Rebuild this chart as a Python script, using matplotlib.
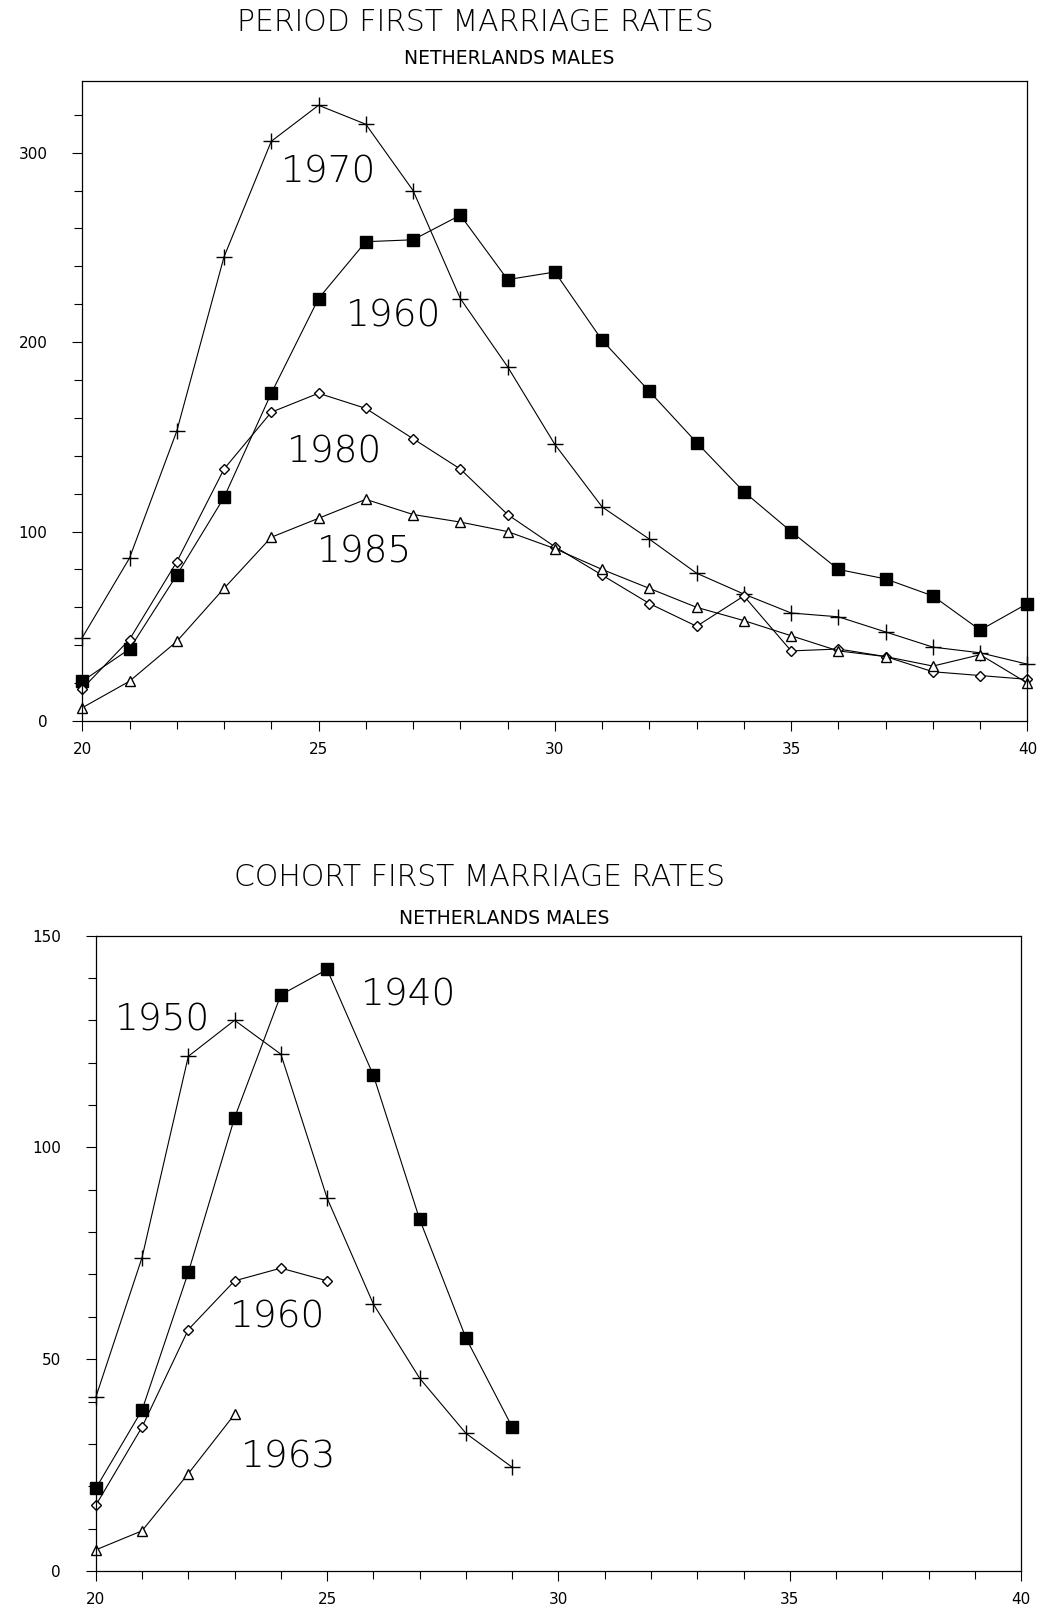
import matplotlib
matplotlib.use("Agg")
import matplotlib.pyplot as plt
from matplotlib.ticker import MultipleLocator, FixedLocator

ages = list(range(20, 41))

# period rates per 1000, by calendar year
p1960 = [21, 38, 77, 118, 173, 223, 253, 254, 267, 233, 237, 201, 174, 147, 121,
         100, 80, 75, 66, 48, 62]
p1970 = [44, 86, 153, 245, 306, 325, 315, 280, 223, 187, 146, 113, 96, 78, 67,
         57, 55, 47, 39, 36, 30]
p1980 = [17, 43, 84, 133, 163, 173, 165, 149, 133, 109, 92, 77, 62, 50, 66,
         37, 38, 34, 26, 24, 22]
p1985 = [7, 21, 42, 70, 97, 107, 117, 109, 105, 100, 91, 80, 70, 60, 53,
         45, 37, 34, 29, 35, 20]

# cohort rates, by birth year
c_ages_1940 = list(range(20, 30))
c1940 = [19.5, 38, 70.5, 107, 136, 142, 117, 83, 55, 34]
c_ages_1950 = list(range(20, 30))
c1950 = [41, 74, 121.5, 130, 122, 88, 63, 45.5, 32.5, 24.5]
c_ages_1960 = list(range(20, 26))
c1960 = [15.5, 34, 57, 68.5, 71.5, 68.5]
c_ages_1963 = list(range(20, 24))
c1963 = [5, 9.5, 23, 37]

line_kw = dict(color="black", lw=0.8, clip_on=False)
styles = {
    "sq": dict(marker="s", ms=9, mfc="black", mec="black"),
    "plus": dict(marker="+", ms=11, mew=1.0, mec="black"),
    "dia": dict(marker="D", ms=5, mfc="white", mec="black", mew=1.0),
    "tri": dict(marker="^", ms=7, mfc="white", mec="black", mew=1.0),
}

fig = plt.figure(figsize=(10.41, 16.13), dpi=100)
plt.rcParams["font.family"] = ["DejaVu Sans"]


def style_axes(ax, ymax, ystep, yminor):
    ax.set_xlim(20, 40)
    ax.set_ylim(0, ymax)
    ax.xaxis.set_major_locator(FixedLocator([20, 25, 30, 35, 40]))
    ax.xaxis.set_minor_locator(MultipleLocator(1))
    ax.yaxis.set_major_locator(MultipleLocator(ystep))
    ax.yaxis.set_minor_locator(MultipleLocator(yminor))
    ax.tick_params(which="both", direction="out", width=0.8, color="black")
    ax.tick_params(which="major", length=7, labelsize=11)
    ax.tick_params(axis="x", which="major", pad=8)
    ax.tick_params(axis="y", which="major", pad=18)
    ax.tick_params(which="minor", length=6)
    for s in ax.spines.values():
        s.set_linewidth(0.9)


# upper panel: period rates
ax1 = fig.add_axes([0.079, 0.553, 0.908, 0.397])
ax1.plot(ages, p1960, **line_kw, **styles["sq"])
ax1.plot(ages, p1970, **line_kw, **styles["plus"])
ax1.plot(ages, p1980, **line_kw, **styles["dia"])
ax1.plot(ages, p1985, **line_kw, **styles["tri"])
style_axes(ax1, 338, 100, 20)
lab = dict(fontsize=27, fontweight="light", ha="center", va="center")
ax1.text(25.22, 290, "1970", **lab)
ax1.text(26.59, 214, "1960", **lab)
ax1.text(25.33, 142, "1980", **lab)
ax1.text(25.98, 89, "1985", **lab)

fig.text(0.457, 0.986, "PERIOD FIRST MARRIAGE RATES", fontsize=21.5,
         fontweight="light", ha="center", va="center")
fig.text(0.489, 0.964, "NETHERLANDS MALES", fontsize=13.5, ha="center", va="center")

# lower panel: cohort rates
ax2 = fig.add_axes([0.092, 0.026, 0.889, 0.394])
ax2.plot(c_ages_1940, c1940, **line_kw, **styles["sq"])
ax2.plot(c_ages_1950, c1950, **line_kw, **styles["plus"])
ax2.plot(c_ages_1960, c1960, **line_kw, **styles["dia"])
ax2.plot(c_ages_1963, c1963, **line_kw, **styles["tri"])
style_axes(ax2, 150, 50, 10)
ax2.text(21.44, 130, "1950", **lab)
ax2.text(26.76, 136, "1940", **lab)
ax2.text(23.93, 60, "1960", **lab)
ax2.text(24.16, 27, "1963", **lab)

fig.text(0.461, 0.456, "COHORT FIRST MARRIAGE RATES", fontsize=21.5,
         fontweight="light", ha="center", va="center")
fig.text(0.484, 0.4305, "NETHERLANDS MALES", fontsize=13.5, ha="center", va="center")

fig.savefig("out.png", dpi=100)
